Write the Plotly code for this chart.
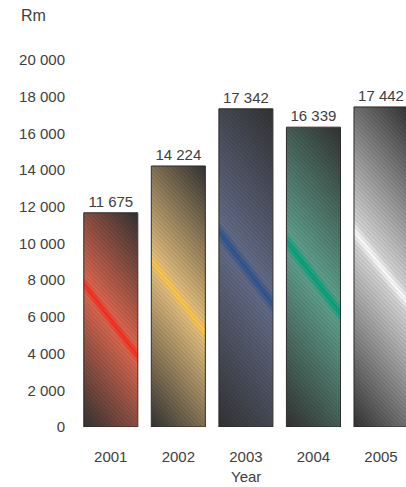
import base64, math
import plotly.graph_objects as go

years = ["2001", "2002", "2003", "2004", "2005"]
values = [11675, 14224, 17342, 16339, 17442]
bright_colors = ["#ff2b1e", "#ffc84a", "#2f5590", "#00a67c", "#ffffff"]
mid_colors = ["#d8664f", "#e0bc7c", "#626a86", "#5e9e8a", "#d4d4d4"]
dark_color = "#333333"
y_ticks = [0, 2000, 4000, 6000, 8000, 10000, 12000, 14000, 16000, 18000, 20000]

W, H = 406, 487
ML, MR, MT, MB = 77, 0, 60, 60
Y_MAX = 20000
X_RANGE = [-0.5, 4.37]
BAR_W = 0.8

plot_w = W - ML - MR
plot_h = H - MT - MB
px_per_cat = plot_w / (X_RANGE[1] - X_RANGE[0])
px_per_val = plot_h / Y_MAX


def gradient_svg(v, bright, mid):
    w = BAR_W * px_per_cat
    h = v * px_per_val
    dx, dy = 1.35, -1.0
    n = math.hypot(dx, dy)
    dx, dy = dx / n, dy / n
    D = 0.5 * (w * abs(dx) + h * abs(dy))
    cx, cy = w / 2, h / 2
    x1, y1 = cx - D * dx, cy - D * dy
    x2, y2 = cx + D * dx, cy + D * dy
    svg = (
        f"<svg xmlns='http://www.w3.org/2000/svg' width='{w:.2f}' height='{h:.2f}' "
        f"viewBox='0 0 {w:.2f} {h:.2f}' preserveAspectRatio='none'>"
        f"<defs><linearGradient id='g' gradientUnits='userSpaceOnUse' "
        f"x1='{x1:.2f}' y1='{y1:.2f}' x2='{x2:.2f}' y2='{y2:.2f}'>"
        f"<stop offset='0' stop-color='{dark_color}'/>"
        f"<stop offset='0.47' stop-color='{mid}'/>"
        f"<stop offset='0.5' stop-color='{bright}'/>"
        f"<stop offset='0.53' stop-color='{mid}'/>"
        f"<stop offset='1' stop-color='{dark_color}'/>"
        f"</linearGradient></defs>"
        f"<rect x='0' y='0' width='{w:.2f}' height='{h:.2f}' fill='url(#g)'/></svg>"
    )
    return "data:image/svg+xml;base64," + base64.b64encode(svg.encode()).decode()


FONT = "Liberation Sans, Arial, sans-serif"
TXT = "#404040"
FS = 15

fig = go.Figure()
fig.add_trace(go.Bar(
    x=list(range(len(years))),
    y=values,
    width=BAR_W,
    marker=dict(
        color="rgba(0,0,0,0)",
        line=dict(color="#2a2a2a", width=1),
        pattern=dict(shape="\\", size=3, solidity=0.3, fgcolor="#000000",
                     fgopacity=0.13, fillmode="overlay"),
    ),
    texttemplate="%{y:,}",
    textposition="outside",
    textfont=dict(family=FONT, size=FS, color=TXT),
    cliponaxis=False,
    hoverinfo="skip",
))

images = []
for i, (v, b, m) in enumerate(zip(values, bright_colors, mid_colors)):
    images.append(dict(
        source=gradient_svg(v, b, m),
        xref="x", yref="y",
        x=i - BAR_W / 2, y=v,
        sizex=BAR_W, sizey=v,
        xanchor="left", yanchor="top",
        sizing="stretch", layer="below",
    ))

fig.update_layout(
    width=W, height=H,
    margin=dict(l=ML, r=MR, t=MT, b=MB, pad=0),
    paper_bgcolor="white", plot_bgcolor="white",
    separators=". ",
    showlegend=False,
    images=images,
    font=dict(family=FONT, size=FS, color=TXT),
    xaxis=dict(
        range=X_RANGE,
        tickmode="array",
        tickvals=list(range(len(years))),
        ticktext=years,
        showgrid=False, zeroline=False, showline=False,
        ticks="outside", ticklen=16, tickcolor="rgba(0,0,0,0)",
        tickfont=dict(family=FONT, size=FS, color=TXT),
        fixedrange=True,
    ),
    yaxis=dict(
        range=[0, Y_MAX],
        tickmode="array",
        tickvals=y_ticks,
        tickformat=",",
        showgrid=False, zeroline=False, showline=False,
        ticks="outside", ticklen=8, tickcolor="rgba(0,0,0,0)",
        tickfont=dict(family=FONT, size=FS, color=TXT),
        fixedrange=True,
    ),
    annotations=[
        dict(text="Rm", xref="paper", yref="paper", x=0, y=1,
             xanchor="left", yanchor="middle", xshift=-58, yshift=45,
             showarrow=False, font=dict(family=FONT, size=16, color=TXT)),
        dict(text="Year", xref="x", yref="paper", x=2, y=0,
             xanchor="center", yanchor="middle", yshift=-49,
             showarrow=False, font=dict(family=FONT, size=FS, color=TXT)),
    ],
)

fig.write_html("out.html")
